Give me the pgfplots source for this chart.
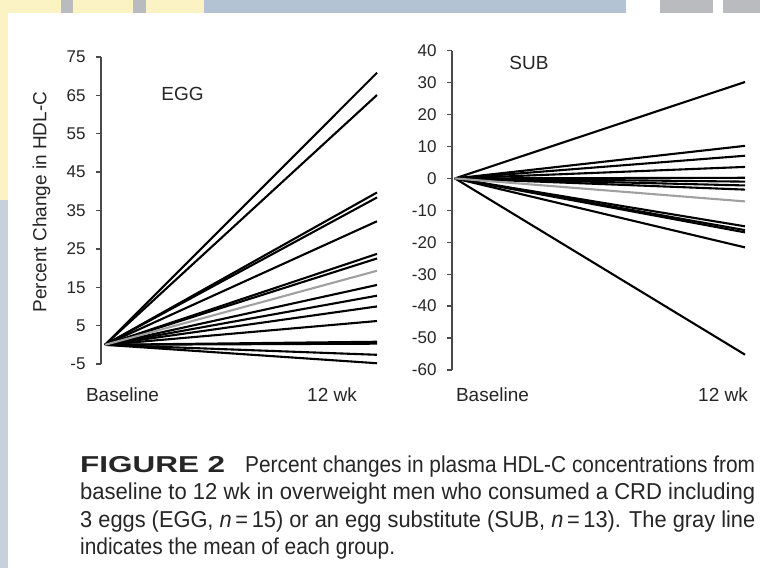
\documentclass[border=0pt]{standalone}
\usepackage{pgfplots}
\pgfplotsset{compat=1.18}
\usepackage{fontspec}
\setmainfont{Liberation Sans}
\usepackage{graphicx}
\definecolor{bgyellow}{HTML}{FBF3C4}
\definecolor{bggray}{HTML}{B9BBBE}
\definecolor{bgblue}{HTML}{B4C3D3}
\definecolor{bgside}{HTML}{C8D0DC}
\definecolor{txt}{HTML}{262626}
\definecolor{axgray}{HTML}{4A4A4A}
\definecolor{meangray}{HTML}{A0A0A0}
\newcommand{\tickfont}{\fontsize{17}{17}\selectfont}
\newcommand{\labfont}{\fontsize{19}{19}\selectfont}
\newcommand{\capfont}{\fontsize{23}{23}\selectfont}
\pgfplotsset{
  panel/.style={
    scale only axis,
    anchor=south west,
    axis y line=left,
    axis x line=none,
    axis line style={-, draw=axgray, line width=1.3pt},
    tick align=outside,
    major tick length=5pt,
    every tick/.style={draw=axgray, line width=1.3pt},
    yticklabel style={font=\tickfont, text=txt, xshift=-7pt},
    clip=false,
  },
  ind/.style={draw=black, line width=2.1pt, solid, mark=none},
  mean/.style={draw=meangray, line width=2.1pt, solid, mark=none},
}
\begin{document}
\begin{tikzpicture}[x=1pt,y=1pt]
\path[use as bounding box, fill=white] (0,0) rectangle (760,-568);
% decorative background border
\fill[bgblue] (0,0) rectangle (760,-13);
\fill[bgyellow] (0,0) rectangle (204,-13);
\fill[bggray] (61,0) rectangle (73,-13);
\fill[bggray] (133,0) rectangle (146,-13);
\fill[white] (626,0) rectangle (660,-13);
\fill[bggray] (660,0) rectangle (713,-13);
\fill[white] (713,0) rectangle (723,-13);
\fill[bggray] (723,0) rectangle (760,-13);
\fill[bgyellow] (0,0) rectangle (8,-200);
\fill[bgside] (0,-200) rectangle (8,-568);

% ---------------- EGG panel ----------------
\begin{axis}[panel,
  at={(101pt,-364pt)}, width=279pt, height=307pt,
  xmin=-0.0147, xmax=1.011, ymin=-5, ymax=75,
  ytick={-5,5,15,25,35,45,55,65,75},
  yticklabels={-5,5,15,25,35,45,55,65,75}]
\addplot[ind] coordinates {(0,0) (1,70.9)};
\addplot[ind] coordinates {(0,0) (1,65.1)};
\addplot[ind] coordinates {(0,0) (1,39.7)};
\addplot[ind] coordinates {(0,0) (1,38.4)};
\addplot[ind] coordinates {(0,0) (1,32.2)};
\addplot[ind] coordinates {(0,0) (1,23.7)};
\addplot[ind] coordinates {(0,0) (1,22.5)};
\addplot[ind] coordinates {(0,0) (1,15.6)};
\addplot[ind] coordinates {(0,0) (1,12.8)};
\addplot[ind] coordinates {(0,0) (1,10.0)};
\addplot[ind] coordinates {(0,0) (1,6.2)};
\addplot[ind] coordinates {(0,0) (1,0.8)};
\addplot[ind] coordinates {(0,0) (1,0.3)};
\addplot[ind] coordinates {(0,0) (1,-2.6)};
\addplot[ind] coordinates {(0,0) (1,-4.8)};
\addplot[mean] coordinates {(0,0) (1,19.3)};
\end{axis}

% ---------------- SUB panel ----------------
\begin{axis}[panel,
  at={(452pt,-370pt)}, width=296pt, height=319.3pt,
  xmin=-0.0103, xmax=1.0103, ymin=-60, ymax=40,
  ytick={-60,-50,-40,-30,-20,-10,0,10,20,30,40},
  yticklabels={-60,-50,-40,-30,-20,-10,0,10,20,30,40}]
\addplot[ind] coordinates {(0,0) (1,30.2)};
\addplot[ind] coordinates {(0,0) (1,10.2)};
\addplot[ind] coordinates {(0,0) (1,7.1)};
\addplot[ind] coordinates {(0,0) (1,3.6)};
\addplot[ind] coordinates {(0,0) (1,0.2)};
\addplot[ind] coordinates {(0,0) (1,-1.0)};
\addplot[ind] coordinates {(0,0) (1,-2.2)};
\addplot[ind] coordinates {(0,0) (1,-3.5)};
\addplot[ind] coordinates {(0,0) (1,-15.0)};
\addplot[ind] coordinates {(0,0) (1,-16.2)};
\addplot[ind] coordinates {(0,0) (1,-16.9)};
\addplot[ind] coordinates {(0,0) (1,-21.6)};
\addplot[ind] coordinates {(0,0) (1,-55.2)};
\addplot[mean] coordinates {(0,0) (1,-7.2)};
\end{axis}

% ---------------- labels ----------------
\node[text=txt, rotate=90, font=\labfont] at (41.5,-202) {Percent Change in HDL-C};
\node[text=txt, font=\labfont] at (182.5,-94) {EGG};
\node[text=txt, font=\labfont] at (529,-62.5) {SUB};
\node[text=txt, font=\labfont] at (122.5,-395) {Baseline};
\node[text=txt, font=\labfont] at (332,-395) {12 wk};
\node[text=txt, font=\labfont] at (492.5,-395) {Baseline};
\node[text=txt, font=\labfont] at (723,-395) {12 wk};

% ---------------- caption ----------------
\begin{scope}[every node/.style={anchor=base west, inner sep=0pt, text=txt}]
\node at (80,-472) {\resizebox{145pt}{\height}{\capfont\textbf{FIGURE 2}}};
\node at (245,-472) {\resizebox{510pt}{\height}{\capfont Percent changes in plasma HDL-C concentrations from}};
\node at (80,-499.5) {\resizebox{675pt}{\height}{\capfont baseline to 12 wk in overweight men who consumed a CRD including}};
\node at (80,-527) {\resizebox{675pt}{\height}{\capfont 3 eggs (EGG, \textit{n}\,=\,15) or an egg substitute (SUB, \textit{n}\,=\,13). The gray line}};
\node at (80,-554.5) {\resizebox{315pt}{\height}{\capfont indicates the mean of each group.}};
\end{scope}
\end{tikzpicture}
\end{document}
